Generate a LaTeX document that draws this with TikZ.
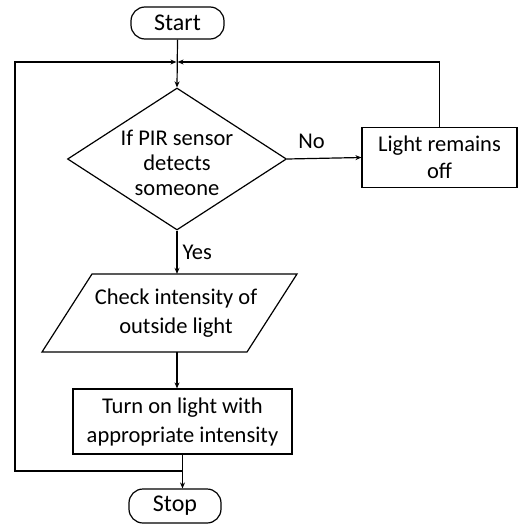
\documentclass[tikz,border=0pt]{standalone}
\usepackage{fontspec}
\setmainfont{Carlito}
\usetikzlibrary{shapes.geometric,arrows.meta}
\begin{document}
\begin{tikzpicture}[x=1pt,y=-1pt,
  every node/.style={font=\fontsize{22.5}{29}\selectfont},
  line/.style={line width=1.2pt},
  arr/.style={line width=1.2pt,-{Stealth[length=6pt,width=5pt]}},
  term/.style={draw,line width=1.2pt,rounded corners=14pt,inner sep=0pt,font=\fontsize{24}{29}\selectfont},
  proc/.style={draw,line width=1.2pt,inner sep=0pt,align=center},
  txt/.style={align=center,inner sep=0pt}]
\useasboundingbox (0,0) rectangle (518,525);
\node[term,minimum width=93pt,minimum height=32pt] (start) at (177.5,23) {Start};
\node[draw,line width=1.2pt,diamond,minimum width=219pt,minimum height=142pt,inner sep=0pt] (dec) at (177,159) {};
\node[txt,font=\fontsize{22.5}{25}\selectfont] (dect) at (177,163) {If PIR sensor\\detects\\someone};
\node[proc,minimum width=155pt,minimum height=60pt,font=\fontsize{22.5}{27}\selectfont] (light) at (439.5,157.5) {Light remains\\off};
\node[txt,minimum height=78pt] (io) at (176,313) {Check intensity of\\outside light};
\draw[line,line join=miter] (92,274) -- (297,274) -- (247,352) -- (42,352) -- cycle;
\node[proc,minimum width=219pt,minimum height=65pt] (act) at (182.5,421.5) {Turn on light with\\appropriate intensity};
\node[term,minimum width=92pt,minimum height=34pt] (stop) at (175,506) {Stop};
\coordinate (jT) at (177,62);
\coordinate (jB) at (182.5,471);
\coordinate (cL1) at (15,471);
\coordinate (cL2) at (15,62);
\coordinate (cR) at (light.north |- jT);
\draw[arr] (start.south) -- (dec.north);
\draw[arr] (jB) -- (cL1) -- (cL2) -- ([xshift=-0.6pt]jT);
\draw[arr] (light.north) -- (cR) -- ([xshift=0.6pt]jT);
\draw[arr] (dec.east) -- node[above=9pt,pos=0.33,inner sep=0pt] (no) {No} (light.west);
\draw[arr] (dec.south) -- node[right=5pt,inner sep=0pt] (yes) {Yes} (dec.south |- io.north);
\draw[arr] (dec.south |- io.south) -- (dec.south |- act.north);
\draw[arr] (act.south) -- (act.south |- stop.north);
\end{tikzpicture}
\end{document}
